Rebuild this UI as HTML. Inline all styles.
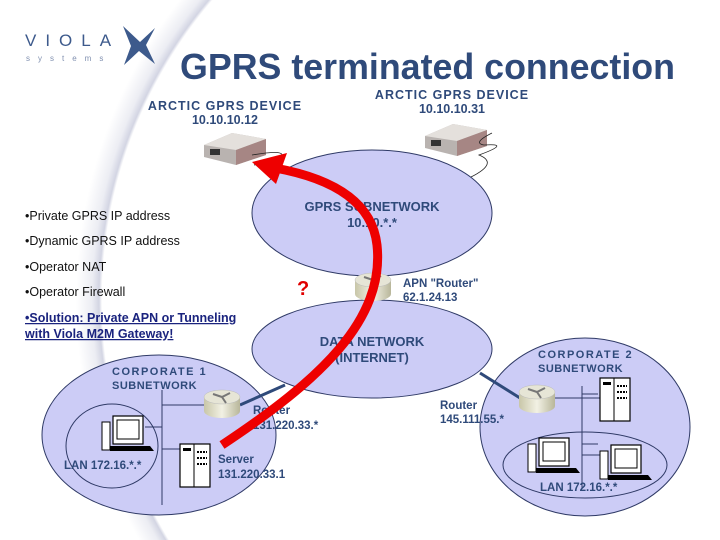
<!DOCTYPE html>
<html><head><meta charset="utf-8"><style>
html,body{margin:0;padding:0;}
body{width:720px;height:540px;overflow:hidden;position:relative;font-family:"Liberation Sans",sans-serif;
background:radial-gradient(circle 490px at 564px 300px,#fff 462px,#d3d5e3 465px,#eceDf3 472px,#fff 488px);}
svg{position:absolute;left:0;top:0;}
</style></head><body>
<svg width="720" height="540" viewBox="0 0 720 540" xmlns="http://www.w3.org/2000/svg" font-family="Liberation Sans, sans-serif">
<defs>
<linearGradient id="cyl" x1="0" x2="1"><stop offset="0" stop-color="#c8c6a8"/><stop offset="0.5" stop-color="#f2f1e4"/><stop offset="1" stop-color="#b8b69a"/></linearGradient>
<g id="router">
 <path d="M-18,-6 v14 a18,7 0 0 0 36,0 v-14z" fill="url(#cyl)"/>
 <ellipse cx="0" cy="-6" rx="18" ry="7" fill="#e6e5d6" stroke="#bbb" stroke-width="0.5"/>
 <path d="M-9,-9 L0,-6 L8,-10 M0,-6 L4,0" stroke="#777" stroke-width="2" fill="none"/>
</g>
<g id="pc">
 <rect x="0" y="0" width="8" height="28" fill="#fff" stroke="#000"/>
 <rect x="11" y="-6" width="30" height="28" fill="#fff" stroke="#000" stroke-width="1.2"/>
 <rect x="15" y="-2" width="22" height="19" fill="#fff" stroke="#000"/>
 <path d="M8,24 h40 l4,5 h-44z" fill="#000"/>
</g>
<g id="server">
 <rect x="0" y="0" width="30" height="43" fill="#fff" stroke="#000" stroke-width="1.2"/>
 <line x1="14" y1="0" x2="14" y2="43" stroke="#000"/>
 <rect x="3" y="4" width="8" height="3" fill="#000"/>
 <path d="M17,8 h10 M17,14 h10 M17,20 h10" stroke="#000" stroke-width="2" stroke-dasharray="2,1"/>
</g>
<g id="dev">
 <path d="M0,12 L28,0 L62,6 L62,22 L32,32 L0,24z" fill="#b9b3b0"/>
 <path d="M0,12 L28,0 L62,6 L32,17z" fill="#e4e0dc"/>
 <path d="M32,17 L62,6 L62,22 L32,32z" fill="#a68684"/>
 <rect x="6" y="16" width="10" height="6" fill="#333"/>
</g>
</defs>

<text x="25" y="46" font-size="17" fill="#3d5a8c" letter-spacing="9">VIOLA</text>
<text x="26" y="61" font-size="8" fill="#8090b0" letter-spacing="8">systems</text>
<path d="M123,26 L140,42 L155,28 L146,45 L155,64 L139,51 L124,65 L131,46z" fill="#3d5a8c"/>

<text x="180" y="79" font-size="36.5" font-weight="bold" fill="#2f4a7a" textLength="495" lengthAdjust="spacingAndGlyphs">GPRS terminated connection</text>

<text x="225" y="110" font-size="12.5" font-weight="bold" fill="#2f4a7a" text-anchor="middle" letter-spacing="1">ARCTIC GPRS DEVICE</text>
<text x="225" y="124" font-size="12.5" font-weight="bold" fill="#2f4a7a" text-anchor="middle">10.10.10.12</text>
<text x="452" y="99" font-size="12.5" font-weight="bold" fill="#2f4a7a" text-anchor="middle" letter-spacing="1">ARCTIC GPRS DEVICE</text>
<text x="452" y="113" font-size="12.5" font-weight="bold" fill="#2f4a7a" text-anchor="middle">10.10.10.31</text>

<use href="#dev" x="204" y="133"/>
<use href="#dev" x="425" y="124"/>
<path d="M252,155 q30,-5 30,0 q-5,6 -28,10" stroke="#222" fill="none" stroke-width="0.8"/>
<path d="M492,133 q-20,10 -8,12 q28,-2 -5,10 q20,8 -8,22" stroke="#222" fill="none" stroke-width="0.8"/>

<g fill="#ccccf6" stroke="#2f3a66" stroke-width="1">
<ellipse cx="372" cy="213" rx="120" ry="63"/>
<ellipse cx="372" cy="349" rx="120" ry="49"/>
<ellipse cx="159" cy="435" rx="117" ry="80"/>
<ellipse cx="585" cy="427" rx="105" ry="89"/>
</g>
<g fill="none" stroke="#2f3a66" stroke-width="1">
<ellipse cx="112" cy="446" rx="46" ry="42"/>
<ellipse cx="585" cy="465" rx="82" ry="33"/>
<path d="M162,390 V505 M162,405 H210 M145,427 H162 M162,449 H180"/>
<path d="M582,386 V488 M555,398 H600 M582,394 H598 M582,444 H598 M582,455 H600"/>
</g>
<path d="M240,405 L285,385" stroke="#2f4a7a" stroke-width="3"/>
<path d="M480,373 L520,398" stroke="#2f4a7a" stroke-width="3"/>

<use href="#router" x="222" y="403"/>
<use href="#router" x="537" y="398"/>
<use href="#router" x="373" y="286"/>
<use href="#pc" x="102" y="422"/>
<use href="#server" x="180" y="444"/>
<use href="#server" x="600" y="378"/>
<use href="#pc" x="528" y="444"/>
<use href="#pc" x="600" y="451"/>

<g font-weight="bold" fill="#2f4a7a" font-size="12.5">
<text x="372" y="211" text-anchor="middle" font-size="13">GPRS SUBNETWORK</text>
<text x="372" y="227" text-anchor="middle" font-size="13">10.10.*.*</text>
<text x="372" y="346" text-anchor="middle" font-size="13">DATA NETWORK</text>
<text x="372" y="362" text-anchor="middle" font-size="13">(INTERNET)</text>
<text x="403" y="287" font-size="11.5">APN "Router"</text>
<text x="403" y="301" font-size="11.5">62.1.24.13</text>
<text x="112" y="375" letter-spacing="1.5" font-size="11">CORPORATE 1</text>
<text x="112" y="389" letter-spacing="0.5" font-size="11">SUBNETWORK</text>
<text x="64" y="469" font-size="11.5">LAN 172.16.*.*</text>
<text x="253" y="414" font-size="11.5">Router</text>
<text x="253" y="429" font-size="11.5">131.220.33.*</text>
<text x="218" y="463" font-size="11.5">Server</text>
<text x="218" y="478" font-size="11.5">131.220.33.1</text>
<text x="538" y="358" letter-spacing="1.5" font-size="11">CORPORATE 2</text>
<text x="538" y="372" letter-spacing="0.5" font-size="11">SUBNETWORK</text>
<text x="440" y="409" font-size="11.5">Router</text>
<text x="440" y="423" font-size="11.5">145.111.55.*</text>
<text x="540" y="491" font-size="11.5">LAN 172.16.*.*</text>
</g>
<text x="297" y="295" font-size="20" font-weight="bold" fill="#e00000">?</text>

<g font-size="12.5" fill="#111">
<text x="25" y="220">•Private GPRS IP address</text>
<text x="25" y="245">•Dynamic GPRS IP address</text>
<text x="25" y="271">•Operator NAT</text>
<text x="25" y="296">•Operator Firewall</text>
</g>
<g font-size="12.5" font-weight="bold" fill="#1a237e" text-decoration="underline">
<text x="25" y="322">•Solution: Private APN or Tunneling</text>
<text x="25" y="338">with Viola M2M Gateway!</text>
</g>

<path d="M222,445 C320,380 385,320 377,245 C372,200 330,178 275,168" stroke="#ee0000" stroke-width="9" fill="none"/>
<path d="M252,162 L287,153 L276,184z" fill="#ee0000"/>
</svg>
</body></html>
